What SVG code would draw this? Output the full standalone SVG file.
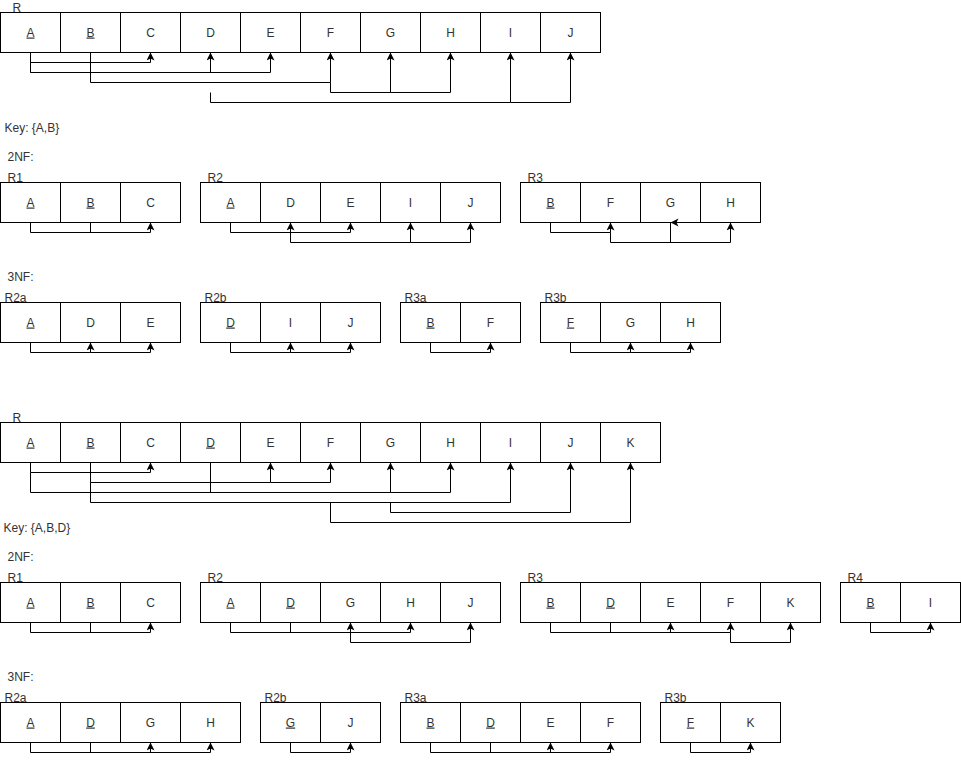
<svg xmlns="http://www.w3.org/2000/svg" width="961" height="761" viewBox="0 0 961 761">
<style>
.cell{fill:#fff;stroke:#000;stroke-width:1}
.t{font-family:"Liberation Sans",Arial,Helvetica,sans-serif;font-size:12px;fill:#333;text-anchor:middle}
.u{text-decoration:underline}
.l{font-family:"Liberation Sans",Arial,Helvetica,sans-serif;font-size:12px;fill:#333;text-anchor:start}
.c{fill:none;stroke:#000;stroke-width:1}
.a{marker-end:url(#ah)}
</style>
<defs>
<marker id="ah" viewBox="0 0 8 8" refX="8" refY="4" markerWidth="8" markerHeight="8" markerUnits="userSpaceOnUse" orient="auto">
<path d="M0,0 L8,4 L0,8 L2,4 Z" fill="#000"/>
</marker>
</defs>
<rect width="961" height="761" fill="#fff"/>
<g transform="translate(0.5,0.5)">
<!-- ============ Part 1 ============ -->
<g id="p1-R">
<text class="l" x="12" y="11">R</text>
<rect class="cell" x="0" y="12" width="60" height="40"/><rect class="cell" x="60" y="12" width="60" height="40"/><rect class="cell" x="120" y="12" width="60" height="40"/><rect class="cell" x="180" y="12" width="60" height="40"/><rect class="cell" x="240" y="12" width="60" height="40"/><rect class="cell" x="300" y="12" width="60" height="40"/><rect class="cell" x="360" y="12" width="60" height="40"/><rect class="cell" x="420" y="12" width="60" height="40"/><rect class="cell" x="480" y="12" width="60" height="40"/><rect class="cell" x="540" y="12" width="60" height="40"/>
<text class="t u" x="30" y="36">A</text><text class="t u" x="90" y="36">B</text><text class="t" x="150" y="36">C</text><text class="t" x="210" y="36">D</text><text class="t" x="270" y="36">E</text><text class="t" x="330" y="36">F</text><text class="t" x="390" y="36">G</text><text class="t" x="450" y="36">H</text><text class="t" x="510" y="36">I</text><text class="t" x="570" y="36">J</text>
</g>
<g id="p1-key"><text class="l" x="4" y="131">Key: {A,B}</text></g>
<g id="p1-2nf"><text class="l" x="7" y="160">2NF:</text></g>
<g id="p1-R1">
<text class="l" x="7" y="181">R1</text>
<rect class="cell" x="0" y="182" width="60" height="40"/><rect class="cell" x="60" y="182" width="60" height="40"/><rect class="cell" x="120" y="182" width="60" height="40"/>
<text class="t u" x="30" y="206">A</text><text class="t u" x="90" y="206">B</text><text class="t" x="150" y="206">C</text>
</g>
<g id="p1-R2">
<text class="l" x="207" y="181">R2</text>
<rect class="cell" x="200" y="182" width="60" height="40"/><rect class="cell" x="260" y="182" width="60" height="40"/><rect class="cell" x="320" y="182" width="60" height="40"/><rect class="cell" x="380" y="182" width="60" height="40"/><rect class="cell" x="440" y="182" width="60" height="40"/>
<text class="t u" x="230" y="206">A</text><text class="t" x="290" y="206">D</text><text class="t" x="350" y="206">E</text><text class="t" x="410" y="206">I</text><text class="t" x="470" y="206">J</text>
</g>
<g id="p1-R3">
<text class="l" x="527" y="181">R3</text>
<rect class="cell" x="520" y="182" width="60" height="40"/><rect class="cell" x="580" y="182" width="60" height="40"/><rect class="cell" x="640" y="182" width="60" height="40"/><rect class="cell" x="700" y="182" width="60" height="40"/>
<text class="t u" x="550" y="206">B</text><text class="t" x="610" y="206">F</text><text class="t" x="670" y="206">G</text><text class="t" x="730" y="206">H</text>
</g>
<g id="p1-3nf"><text class="l" x="7" y="280">3NF:</text></g>
<g id="p1-R2a">
<text class="l" x="4" y="301">R2a</text>
<rect class="cell" x="0" y="302" width="60" height="40"/><rect class="cell" x="60" y="302" width="60" height="40"/><rect class="cell" x="120" y="302" width="60" height="40"/>
<text class="t u" x="30" y="326">A</text><text class="t" x="90" y="326">D</text><text class="t" x="150" y="326">E</text>
</g>
<g id="p1-R2b">
<text class="l" x="204" y="301">R2b</text>
<rect class="cell" x="200" y="302" width="60" height="40"/><rect class="cell" x="260" y="302" width="60" height="40"/><rect class="cell" x="320" y="302" width="60" height="40"/>
<text class="t u" x="230" y="326">D</text><text class="t" x="290" y="326">I</text><text class="t" x="350" y="326">J</text>
</g>
<g id="p1-R3a">
<text class="l" x="404" y="301">R3a</text>
<rect class="cell" x="400" y="302" width="60" height="40"/><rect class="cell" x="460" y="302" width="60" height="40"/>
<text class="t u" x="430" y="326">B</text><text class="t" x="490" y="326">F</text>
</g>
<g id="p1-R3b">
<text class="l" x="544" y="301">R3b</text>
<rect class="cell" x="540" y="302" width="60" height="40"/><rect class="cell" x="600" y="302" width="60" height="40"/><rect class="cell" x="660" y="302" width="60" height="40"/>
<text class="t u" x="570" y="326">F</text><text class="t" x="630" y="326">G</text><text class="t" x="690" y="326">H</text>
</g>
<!-- ============ Part 2 ============ -->
<g id="p2-R">
<text class="l" x="12" y="421">R</text>
<rect class="cell" x="0" y="422" width="60" height="40"/><rect class="cell" x="60" y="422" width="60" height="40"/><rect class="cell" x="120" y="422" width="60" height="40"/><rect class="cell" x="180" y="422" width="60" height="40"/><rect class="cell" x="240" y="422" width="60" height="40"/><rect class="cell" x="300" y="422" width="60" height="40"/><rect class="cell" x="360" y="422" width="60" height="40"/><rect class="cell" x="420" y="422" width="60" height="40"/><rect class="cell" x="480" y="422" width="60" height="40"/><rect class="cell" x="540" y="422" width="60" height="40"/><rect class="cell" x="600" y="422" width="60" height="40"/>
<text class="t u" x="30" y="446">A</text><text class="t u" x="90" y="446">B</text><text class="t" x="150" y="446">C</text><text class="t u" x="210" y="446">D</text><text class="t" x="270" y="446">E</text><text class="t" x="330" y="446">F</text><text class="t" x="390" y="446">G</text><text class="t" x="450" y="446">H</text><text class="t" x="510" y="446">I</text><text class="t" x="570" y="446">J</text><text class="t" x="630" y="446">K</text>
</g>
<g id="p2-key"><text class="l" x="3" y="531">Key: {A,B,D}</text></g>
<g id="p2-2nf"><text class="l" x="7" y="560">2NF:</text></g>
<g id="p2-R1">
<text class="l" x="7" y="581">R1</text>
<rect class="cell" x="0" y="582" width="60" height="40"/><rect class="cell" x="60" y="582" width="60" height="40"/><rect class="cell" x="120" y="582" width="60" height="40"/>
<text class="t u" x="30" y="606">A</text><text class="t u" x="90" y="606">B</text><text class="t" x="150" y="606">C</text>
</g>
<g id="p2-R2">
<text class="l" x="207" y="581">R2</text>
<rect class="cell" x="200" y="582" width="60" height="40"/><rect class="cell" x="260" y="582" width="60" height="40"/><rect class="cell" x="320" y="582" width="60" height="40"/><rect class="cell" x="380" y="582" width="60" height="40"/><rect class="cell" x="440" y="582" width="60" height="40"/>
<text class="t u" x="230" y="606">A</text><text class="t u" x="290" y="606">D</text><text class="t" x="350" y="606">G</text><text class="t" x="410" y="606">H</text><text class="t" x="470" y="606">J</text>
</g>
<g id="p2-R3">
<text class="l" x="527" y="581">R3</text>
<rect class="cell" x="520" y="582" width="60" height="40"/><rect class="cell" x="580" y="582" width="60" height="40"/><rect class="cell" x="640" y="582" width="60" height="40"/><rect class="cell" x="700" y="582" width="60" height="40"/><rect class="cell" x="760" y="582" width="60" height="40"/>
<text class="t u" x="550" y="606">B</text><text class="t u" x="610" y="606">D</text><text class="t" x="670" y="606">E</text><text class="t" x="730" y="606">F</text><text class="t" x="790" y="606">K</text>
</g>
<g id="p2-R4">
<text class="l" x="847" y="581">R4</text>
<rect class="cell" x="840" y="582" width="60" height="40"/><rect class="cell" x="900" y="582" width="60" height="40"/>
<text class="t u" x="870" y="606">B</text><text class="t" x="930" y="606">I</text>
</g>
<g id="p2-3nf"><text class="l" x="7" y="680">3NF:</text></g>
<g id="p2-R2a">
<text class="l" x="4" y="701">R2a</text>
<rect class="cell" x="0" y="702" width="60" height="40"/><rect class="cell" x="60" y="702" width="60" height="40"/><rect class="cell" x="120" y="702" width="60" height="40"/><rect class="cell" x="180" y="702" width="60" height="40"/>
<text class="t u" x="30" y="726">A</text><text class="t u" x="90" y="726">D</text><text class="t" x="150" y="726">G</text><text class="t" x="210" y="726">H</text>
</g>
<g id="p2-R2b">
<text class="l" x="264" y="701">R2b</text>
<rect class="cell" x="260" y="702" width="60" height="40"/><rect class="cell" x="320" y="702" width="60" height="40"/>
<text class="t u" x="290" y="726">G</text><text class="t" x="350" y="726">J</text>
</g>
<g id="p2-R3a">
<text class="l" x="404" y="701">R3a</text>
<rect class="cell" x="400" y="702" width="60" height="40"/><rect class="cell" x="460" y="702" width="60" height="40"/><rect class="cell" x="520" y="702" width="60" height="40"/><rect class="cell" x="580" y="702" width="60" height="40"/>
<text class="t u" x="430" y="726">B</text><text class="t u" x="490" y="726">D</text><text class="t" x="550" y="726">E</text><text class="t" x="610" y="726">F</text>
</g>
<g id="p2-R3b">
<text class="l" x="664" y="701">R3b</text>
<rect class="cell" x="660" y="702" width="60" height="40"/><rect class="cell" x="720" y="702" width="60" height="40"/>
<text class="t u" x="690" y="726">F</text><text class="t" x="750" y="726">K</text>
</g>
<!-- ============ Connectors ============ -->
<g id="connectors">
<!-- part 1 R -->
<path class="c a" d="M30,52 V62 H150 V52"/>
<path class="c" d="M90,52 V62"/>
<path class="c a" d="M30,52 V72 H210 V52"/>
<path class="c a" d="M30,72 H270 V52"/>
<path class="c a" d="M90,52 V82 H330 V52"/>
<path class="c a" d="M330,82 V92 H390 V52"/>
<path class="c a" d="M390,92 H450 V52"/>
<path class="c a" d="M210,92 V102 H510 V52"/>
<path class="c a" d="M510,102 H570 V52"/>
<!-- part 1 2NF -->
<path class="c a" d="M30,222 V232 H150 V222"/>
<path class="c" d="M90,222 V232"/>
<path class="c a" d="M230,222 V232 H350 V222"/>
<path class="c a" d="M290,242 V222"/>
<path class="c a" d="M290,242 H410 V222"/>
<path class="c a" d="M410,242 H470 V222"/>
<path class="c a" d="M550,222 V232 H610 V222"/>
<path class="c a" d="M610,232 V242 H730 V222"/>
<path class="c" d="M670,242 V222"/>
<path d="M670,222 L678,218 L676,222 L678,226 Z" fill="#000"/>
<!-- part 1 3NF -->
<path class="c a" d="M30,342 V352 H90 V342"/>
<path class="c a" d="M90,352 H150 V342"/>
<path class="c a" d="M230,342 V352 H290 V342"/>
<path class="c a" d="M290,352 H350 V342"/>
<path class="c a" d="M430,342 V352 H490 V342"/>
<path class="c a" d="M570,342 V352 H630 V342"/>
<path class="c a" d="M630,352 H690 V342"/>
<!-- part 2 R -->
<path class="c a" d="M30,462 V472 H150 V462"/>
<path class="c a" d="M30,472 V492 H390 V462"/>
<path class="c a" d="M390,492 H450 V462"/>
<path class="c" d="M210,462 V492"/>
<path class="c a" d="M90,462 V482 H270 V462"/>
<path class="c a" d="M270,482 H330 V462"/>
<path class="c a" d="M90,482 V502 H510 V462"/>
<path class="c a" d="M390,502 V512 H570 V462"/>
<path class="c a" d="M330,502 V522 H630 V462"/>
<!-- part 2 2NF -->
<path class="c a" d="M30,622 V632 H150 V622"/>
<path class="c" d="M90,622 V632"/>
<path class="c a" d="M230,622 V632 H410 V622"/>
<path class="c" d="M290,622 V632"/>
<path class="c a" d="M350,642 V622"/>
<path class="c a" d="M350,642 H470 V622"/>
<path class="c a" d="M550,622 V632 H730 V622"/>
<path class="c" d="M610,622 V632"/>
<path class="c a" d="M670,632 V622"/>
<path class="c a" d="M730,632 V642 H790 V622"/>
<path class="c a" d="M870,622 V632 H930 V622"/>
<!-- part 2 3NF -->
<path class="c a" d="M30,742 V752 H210 V742"/>
<path class="c" d="M90,742 V752"/>
<path class="c a" d="M150,752 V742"/>
<path class="c a" d="M290,742 V752 H350 V742"/>
<path class="c a" d="M430,742 V752 H610 V742"/>
<path class="c" d="M490,742 V752"/>
<path class="c a" d="M550,752 V742"/>
<path class="c a" d="M690,742 V752 H750 V742"/>
</g>
</g>
</svg>
